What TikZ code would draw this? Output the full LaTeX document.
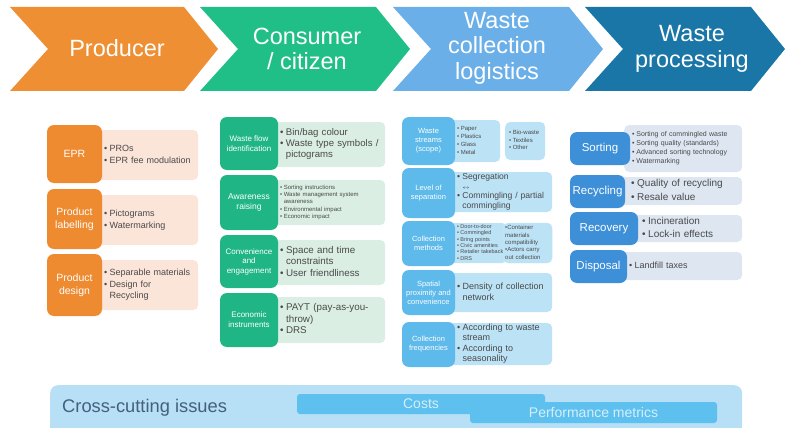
\documentclass[tikz,border=0pt]{standalone}
\usepackage{fontspec}
\setmainfont{Liberation Sans}
\usepackage{tikz}
\usetikzlibrary{positioning}

\definecolor{prodorange}{HTML}{EF8F33}
\definecolor{prodkeyc}{HTML}{EE8A30}
\definecolor{prodpale}{HTML}{FBE4D8}
\definecolor{consgreen}{HTML}{21BF88}
\definecolor{conskeyc}{HTML}{1FB585}
\definecolor{conspale}{HTML}{DAEEE3}
\definecolor{collblue}{HTML}{6AAFE8}
\definecolor{collkeyc}{HTML}{5EBAEA}
\definecolor{collpale}{HTML}{BCE2F6}
\definecolor{procblue}{HTML}{1A76A6}
\definecolor{prockeyc}{HTML}{3D8FD8}
\definecolor{procpale}{HTML}{DDE6F1}
\definecolor{bodytext}{HTML}{4A4A4A}
\definecolor{crossbg}{HTML}{B7DFF6}
\definecolor{crossbar}{HTML}{5DC0EE}
\definecolor{crosstext}{HTML}{44607E}
\definecolor{bartext}{HTML}{D6EEFB}

\newcommand{\wfs}[2]{\fontsize{#1}{#2}\selectfont}
\newcommand{\wbul}{\makebox[0.6em][l]{\textbullet}}
\newcommand{\wind}{\hspace*{0.6em}}
\newcommand{\wlines}[1]{\begin{tabular}{@{}l@{}}#1\end{tabular}}

\begin{document}
\begin{tikzpicture}[x=1pt, y=-1pt,
    head/.style={text=white, align=center, font=\wfs{23.5}{25.5}},
    key/.style={rounded corners=7pt, text=white, align=center, inner sep=1pt},
    val/.style={rounded corners=5pt, text=bodytext, align=left, anchor=west, inner xsep=8pt, inner ysep=0pt},
    bar/.style={fill=crossbar, rounded corners=3pt, text=bartext, font=\wfs{14}{16}, inner sep=0pt}]
    \clip (0,0) rectangle (785,428);

    % chevrons
    \fill[prodorange] (10,7) -- (184,7) -- (218,49) -- (184,91) -- (10,91) -- (48,49) -- cycle;
    \fill[consgreen] (200,7) -- (376,7) -- (410,49) -- (376,91) -- (200,91) -- (238,49) -- cycle;
    \fill[collblue] (393,7) -- (569,7) -- (603,49) -- (569,91) -- (393,91) -- (431,49) -- cycle;
    \fill[procblue] (585,7) -- (751,7) -- (785,49) -- (751,91) -- (585,91) -- (623,49) -- cycle;
    \node[head] (producer) at (117,48) {Producer};
    \node[head] (consumer) at (307,49) {Consumer\\/ citizen};
    \node[head] (collection) at (497,48) {Waste\\collection\\logistics};
    \node[head] (processing) at (692,49) {Waste\\processing};

    % producer
    \node[val, fill=prodpale, text width=86pt, minimum height=50pt, font=\wfs{9}{11.5}] (eprlist) at (96,155)
        {\wlines{\wbul PROs\\\wbul EPR fee modulation}};
    \node[val, fill=prodpale, text width=86pt, minimum height=50pt, font=\wfs{9}{11.5}] (labellist) at (96,220)
        {\wlines{\wbul Pictograms\\\wbul Watermarking}};
    \node[val, fill=prodpale, text width=86pt, minimum height=50pt, font=\wfs{9}{11.5}] (designlist) at (96,285)
        {\wlines{\wbul Separable materials\\\wbul Design for\\\wind Recycling}};
    \node[key, fill=prodkeyc, minimum width=55pt, minimum height=58pt, font=\wfs{10.5}{13}] (epr) at (74.5,154) {EPR};
    \node[key, fill=prodkeyc, minimum width=55pt, minimum height=60pt, font=\wfs{10.5}{13}] (labelling) at (74.5,219) {Product\\labelling};
    \node[key, fill=prodkeyc, minimum width=55pt, minimum height=62pt, font=\wfs{10.5}{13}] (design) at (74.5,285) {Product\\design};

    % consumer / citizen
    \node[val, fill=conspale, text width=97pt, minimum height=45pt, font=\wfs{9.6}{11.2}] (flowlist) at (272,144.5)
        {\wlines{\wbul Bin/bag colour\\\wbul Waste type symbols /\\\wind pictograms}};
    \node[val, fill=conspale, text width=97pt, minimum height=45pt, font=\wfs{6}{7.4}] (awarelist) at (272,202.5)
        {\wlines{\wbul Sorting instructions\\\wbul Waste management system\\\wind awareness\\\wbul Environmental impact\\\wbul Economic impact}};
    \node[val, fill=conspale, text width=97pt, minimum height=45pt, font=\wfs{9.8}{11.5}] (convlist) at (272,262.5)
        {\wlines{\wbul Space and time\\\wind constraints\\\wbul User friendliness}};
    \node[val, fill=conspale, text width=97pt, minimum height=46pt, font=\wfs{9.8}{11.5}] (econlist) at (272,320)
        {\wlines{\wbul PAYT (pay-as-you-\\\wind throw)\\\wbul DRS}};
    \node[key, fill=conskeyc, minimum width=58pt, minimum height=53pt, font=\wfs{8}{10}] (flow) at (249,143.5) {Waste flow\\identification};
    \node[key, fill=conskeyc, minimum width=58pt, minimum height=55pt, font=\wfs{8.5}{10.5}] (aware) at (249,202.5) {Awareness\\raising};
    \node[key, fill=conskeyc, minimum width=58pt, minimum height=53pt, font=\wfs{8}{9.5}] (conv) at (249,261.5) {Convenience\\and\\engagement};
    \node[key, fill=conskeyc, minimum width=58pt, minimum height=54pt, font=\wfs{8}{10}] (econ) at (249,320) {Economic\\instruments};

    % waste collection logistics
    \node[val, fill=collpale, text width=35pt, minimum height=42pt, font=\wfs{6}{7.8}] (streamlist) at (449,141)
        {\wlines{\wbul Paper\\\wbul Plastics\\\wbul Glass\\\wbul Metal}};
    \node[val, fill=collpale, inner xsep=4pt, text width=32pt, minimum height=38pt, font=\wfs{6}{7.5}] (streamlistb) at (505,141)
        {\wlines{\wbul Bio-waste\\\wbul Textiles\\\wbul Other}};
    \node[val, fill=collpale, text width=87pt, minimum height=40pt, font=\wfs{8.6}{9.6}] (seplist) at (449,192)
        {\wlines{\wbul Segregation\\\wind{\wfs{6}{6}$\leftrightarrow$}\\\wbul Commingling / partial\\\wind commingling}};
    \node[val, fill=collpale, text width=42pt, minimum height=40pt, font=\wfs{5.5}{6.4}] (methlist) at (449,243)
        {\wlines{\wbul Door-to-door\\\wbul Commingled\\\wbul Bring points\\\wbul Civic amenities\\\wbul Retailer takeback\\\wbul DRS}};
    \node[val, fill=collpale, draw=collpale!80!white, inner xsep=2pt, text width=45pt, minimum height=40pt, font=\wfs{6}{7.3}] (methlistb) at (503,243)
        {\wlines{\textbullet Container\\materials\\compatibility\\\textbullet Actors carry\\out collection}};
    \node[val, fill=collpale, text width=87pt, minimum height=39pt, font=\wfs{9}{11}] (proxlist) at (449,292.5)
        {\wlines{\wbul Density of collection\\\wind network}};
    \node[val, fill=collpale, text width=87pt, minimum height=38pt, font=\wfs{9}{10.5}] (freqlist) at (449,344)
        {\wlines{\wbul According to waste\\\wind stream\\\wbul According to\\\wind seasonality}};
    \node[key, fill=collkeyc, minimum width=53pt, minimum height=48pt, font=\wfs{7.5}{9}] (streams) at (428.5,141) {Waste\\streams\\(scope)};
    \node[key, fill=collkeyc, minimum width=53pt, minimum height=50pt, font=\wfs{7.5}{9}] (separation) at (428.5,193) {Level of\\separation};
    \node[key, fill=collkeyc, minimum width=53pt, minimum height=45pt, font=\wfs{7.5}{9}] (methods) at (428.5,243.5) {Collection\\methods};
    \node[key, fill=collkeyc, minimum width=53pt, minimum height=45pt, font=\wfs{7.5}{9}] (proximity) at (428.5,292.5) {Spatial\\proximity and\\convenience};
    \node[key, fill=collkeyc, minimum width=53pt, minimum height=45pt, font=\wfs{7.5}{9}] (frequencies) at (428.5,344.5) {Collection\\frequencies};

    % waste processing
    \node[val, fill=procpale, text width=102pt, minimum height=47pt, font=\wfs{7}{9}] (sortlist) at (624,148.5)
        {\wlines{\wbul Sorting of commingled waste\\\wbul Sorting quality (standards)\\\wbul Advanced sorting technology\\\wbul Watermarking}};
    \node[val, fill=procpale, inner xsep=12pt, text width=99pt, minimum height=28pt, font=\wfs{10}{13.5}] (recylist) at (619,191)
        {\wlines{\wbul Quality of recycling\\\wbul Resale value}};
    \node[val, fill=procpale, inner xsep=10pt, text width=90pt, minimum height=27pt, font=\wfs{10}{13.5}] (recolist) at (632,228.5)
        {\wlines{\wbul Incineration\\\wbul Lock-in effects}};
    \node[val, fill=procpale, text width=105pt, minimum height=28pt, font=\wfs{9}{11}] (displist) at (621,266)
        {\wlines{\wbul Landfill taxes}};
    \node[key, fill=prockeyc, minimum width=60pt, minimum height=33pt, font=\wfs{11.5}{13}] (sorting) at (600,148.5) {Sorting};
    \node[key, fill=prockeyc, minimum width=55pt, minimum height=33pt, font=\wfs{11.5}{13}] (recycling) at (597.5,191.5) {Recycling};
    \node[key, fill=prockeyc, minimum width=68pt, minimum height=33pt, font=\wfs{11.5}{13}] (recovery) at (604,228.5) {Recovery};
    \node[key, fill=prockeyc, minimum width=57pt, minimum height=33pt, font=\wfs{11.5}{13}] (disposal) at (598.5,266.5) {Disposal};

    % cross-cutting issues
    \node[fill=crossbg, rounded corners=8pt, minimum width=692pt, minimum height=60pt, anchor=north west, inner sep=0pt] (cross) at (50,385) {};
    \node[text=crosstext, font=\wfs{18.3}{20}, anchor=west, inner sep=0pt] (crosslabel) at (62,408) {Cross-cutting issues};
    \node[bar, minimum width=248pt, minimum height=20pt] (costs) at (421,404) {Costs};
    \node[bar, minimum width=247pt, minimum height=21pt] (metrics) at (593.5,412.5) {Performance metrics};
\end{tikzpicture}
\end{document}
